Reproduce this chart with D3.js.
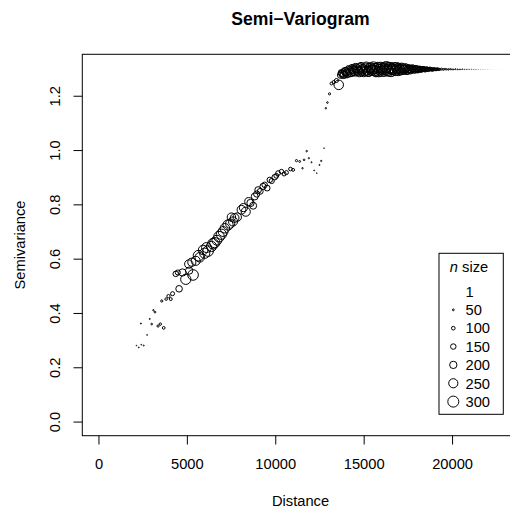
<!DOCTYPE html>
<html>
<head>
<meta charset="utf-8">
<script src="https://cdn.jsdelivr.net/npm/d3@7"></script>
<style>
    body { margin: 0; background: #fff; }
    svg { display: block; font-family: "Liberation Sans", Arial, Helvetica, sans-serif; }
</style>
</head>
<body>
<svg width="510" height="511"></svg>
<script>
// binned semivariogram: lag distance, semivariance, number of pairs
var distance = [
    2150, 2280, 2420, 2560, 2400, 2750, 2900, 3010, 3110, 3200, 3370, 3500, 3690,
    3580, 3830, 3960, 4090, 4190, 4370, 4490, 4560, 4750, 4940, 5110, 5130, 5280, 5350,
    5500, 5660, 5730, 5920, 6010, 6110, 6200, 6390, 6480, 6580, 6700, 6820, 6950, 7050,
    7150, 7330, 7450, 7520, 7610, 7700, 7850, 8090, 8200, 8330, 8500, 8600, 8750, 8840,
    8950, 9030, 9150, 9310, 9400, 9540, 9690, 9800, 9970, 10060, 10160, 10350, 10500,
    10630, 10860, 11010,
    11200, 11380, 11540, 11630, 11780, 11900, 12050, 12200, 12350, 12500, 12600, 12760,
    12860, 12950, 13070, 13180, 13310, 13460, 13590,
    13700, 13800, 13900, 14000, 14100, 14200, 14300, 14400, 14500, 14600,
    14700, 14800, 14900, 15000, 15100, 15200, 15300, 15400, 15500, 15600,
    15700, 15800, 15900, 16000, 16100, 16200, 16300, 16400, 16500, 16600,
    16700, 16800, 16900, 17000, 17100, 17200, 17300, 17400, 17500, 17600,
    17700, 17800, 17900, 18000, 18100, 18200, 18300, 18400, 18500, 18600,
    18700, 18800, 18900, 19000, 19100, 19200, 19300,
    13750, 13850, 13950, 14050, 14150, 14250, 14350, 14450, 14550, 14650,
    14750, 14850, 14950, 15050, 15150, 15250, 15350, 15450, 15550, 15650,
    15750, 15850, 15950, 16050, 16150, 16250, 16350, 16450, 16550, 16650,
    16750, 16850, 16950, 17050, 17150, 17250, 17350, 17450, 17550, 17650,
    17750, 17850, 17950, 18050, 18150, 18250, 18350, 18450, 18550, 18650,
    18750, 18850, 18950, 19050, 19150, 19250,
    19400, 19500, 19600, 19700, 19800, 19900, 20000, 20100, 20200, 20300,
    20400, 20500, 20600, 20700, 20800, 20900, 21000, 21100, 21200, 21300,
    21400, 21500, 21600, 21700, 21800, 21900, 22000, 22100, 22200, 22300,
    22400, 22500, 22600, 22700, 22800
];
var semivariance = [
    0.280, 0.273, 0.283, 0.280, 0.361, 0.319, 0.378, 0.359, 0.410, 0.403, 0.352, 0.359, 0.345,
    0.444, 0.451, 0.462, 0.451, 0.471, 0.544, 0.549, 0.489, 0.549, 0.524, 0.580, 0.556, 0.587, 0.540,
    0.592, 0.611, 0.605, 0.632, 0.620, 0.641, 0.628, 0.645, 0.655, 0.659, 0.668, 0.681, 0.690, 0.700,
    0.712, 0.724, 0.729, 0.753, 0.737, 0.750, 0.753, 0.780, 0.788, 0.773, 0.810, 0.805, 0.795, 0.829,
    0.838, 0.853, 0.848, 0.866, 0.872, 0.860, 0.890, 0.886, 0.900, 0.905, 0.915, 0.921, 0.912,
    0.917, 0.930, 0.927,
    0.961, 0.958, 0.933, 0.964, 0.996, 0.970, 0.955, 0.925, 0.915, 0.945, 0.960, 1.007,
    1.154, 1.175, 1.207, 1.245, 1.250, 1.256, 1.240,
    1.276, 1.282, 1.279, 1.288, 1.284, 1.292, 1.287, 1.296, 1.289, 1.299,
    1.291, 1.301, 1.293, 1.288, 1.302, 1.294, 1.290, 1.303, 1.295, 1.300,
    1.289, 1.304, 1.296, 1.291, 1.302, 1.298, 1.305, 1.292, 1.301, 1.297,
    1.303, 1.293, 1.299, 1.302, 1.294, 1.300, 1.296, 1.301, 1.295, 1.299,
    1.297, 1.300, 1.295, 1.299, 1.296, 1.298, 1.297, 1.299, 1.296, 1.298,
    1.297, 1.298, 1.296, 1.298, 1.297, 1.298, 1.297,
    1.284, 1.277, 1.290, 1.281, 1.295, 1.286, 1.299, 1.291, 1.302, 1.294,
    1.287, 1.305, 1.298, 1.292, 1.306, 1.289, 1.301, 1.293, 1.306, 1.292,
    1.300, 1.289, 1.304, 1.298, 1.291, 1.305, 1.295, 1.303, 1.290, 1.299,
    1.295, 1.304, 1.292, 1.297, 1.303, 1.295, 1.302, 1.293, 1.300, 1.294,
    1.301, 1.296, 1.300, 1.295, 1.299, 1.296, 1.299, 1.296, 1.299, 1.297,
    1.299, 1.297, 1.298, 1.297, 1.298, 1.297,
    1.298, 1.297, 1.298, 1.297, 1.297, 1.298, 1.297, 1.297, 1.298, 1.297,
    1.297, 1.297, 1.298, 1.297, 1.297, 1.297, 1.297, 1.298, 1.297, 1.297,
    1.297, 1.297, 1.297, 1.297, 1.297, 1.297, 1.297, 1.297, 1.297, 1.297,
    1.297, 1.297, 1.297, 1.297, 1.297
];
var nPairs = [
    20, 25, 22, 28, 30, 22, 30, 45, 40, 45, 60, 65, 75,
    60, 70, 90, 80, 110, 150, 140, 180, 200, 280, 230, 200, 220, 290,
    250, 290, 260, 260, 280, 270, 290, 280, 290, 280, 270, 290, 280, 270,
    260, 280, 250, 230, 250, 240, 230, 240, 220, 250, 220, 200, 190, 190,
    170, 180, 160, 170, 150, 160, 150, 140, 150, 130, 130, 120, 110,
    110, 100, 80,
    60, 50, 40, 45, 40, 35, 30, 25, 20, 30, 35, 20,
    40, 45, 60, 80, 90, 110, 260,
    180, 200, 210, 220, 230, 235, 240, 245, 250, 255,
    250, 260, 262, 265, 270, 268, 272, 275, 278, 280,
    285, 283, 288, 290, 292, 295, 298, 300, 296, 292,
    288, 280, 272, 265, 258, 250, 240, 230, 220, 210,
    200, 190, 180, 170, 160, 150, 140, 130, 120, 112,
    104, 96, 88, 80, 72, 65, 58,
    190, 205, 215, 225, 232, 238, 242, 248, 252, 252,
    255, 261, 263, 268, 269, 270, 274, 276, 279, 282,
    284, 286, 289, 291, 294, 296, 299, 298, 294, 290,
    284, 276, 268, 262, 254, 245, 235, 225, 215, 205,
    195, 185, 175, 165, 155, 145, 135, 125, 116, 108,
    100, 92, 84, 76, 68, 61,
    55, 50, 46, 42, 38, 35, 32, 29, 26, 24,
    22, 20, 18, 16, 14, 13, 12, 11, 10, 9,
    8, 7, 6, 5, 5, 4, 4, 3, 3, 2,
    2, 2, 1, 1, 1
];
var xTicks = [0, 5000, 10000, 15000, 20000];
var yTicks = [0.0, 0.2, 0.4, 0.6, 0.8, 1.0, 1.2];
var legendSizes = [1, 50, 100, 150, 200, 250, 300];

var svg = d3.select("svg");
var fontSize = 14.7;

// plot region (right edge runs past the window, as in the original)
var plotLeft = 82.3, plotRight = 518.7, plotTop = 54.3, plotBottom = 435.7;

var xlim = [0, 22855], ylim = [0, 1.3006];
var xpad = (xlim[1] - xlim[0]) * 0.04, ypad = (ylim[1] - ylim[0]) * 0.04;

var x = d3.scaleLinear().domain([xlim[0] - xpad, xlim[1] + xpad]).range([plotLeft, plotRight]);
var y = d3.scaleLinear().domain([ylim[0] - ypad, ylim[1] + ypad]).range([plotBottom, plotTop]);
var size = d3.scaleLinear().domain([0, 300]).range([0, 5.5]);

// tiny symbols come out faint, like the antialiased pch=1 of the original
function ink(n) {
    return Math.min(1, 0.25 + 2 * size(n));
}

var points = distance.map(function (d, i) {
    return { d: d, v: semivariance[i], n: nPairs[i] };
});

svg.append("g")
    .attr("class", "points")
    .selectAll("circle")
    .data(points)
    .enter().append("circle")
    .attr("cx", function (d) { return x(d.d); })
    .attr("cy", function (d) { return y(d.v); })
    .attr("r", function (d) { return size(d.n); })
    .attr("fill", "none")
    .attr("stroke", "#000")
    .attr("stroke-opacity", function (d) { return ink(d.n); })
    .attr("stroke-width", 1);

svg.append("rect")
    .attr("x", plotLeft).attr("y", plotTop)
    .attr("width", plotRight - plotLeft).attr("height", plotBottom - plotTop)
    .attr("fill", "none").attr("stroke", "#000").attr("stroke-width", 1);

var xAxis = svg.append("g")
    .attr("transform", "translate(0," + plotBottom + ")")
    .call(d3.axisBottom(x).tickValues(xTicks).tickSize(8.8).tickFormat(d3.format("d")));
xAxis.select(".domain").remove();
xAxis.selectAll("line").attr("stroke", "#000");
xAxis.selectAll("text")
    .attr("y", 33.3).attr("dy", 0)
    .attr("font-size", fontSize).attr("fill", "#000");
xAxis.attr("font-family", null);

var yAxis = svg.append("g")
    .attr("transform", "translate(" + plotLeft + ",0)")
    .call(d3.axisLeft(y).tickValues(yTicks).tickSize(8.8).tickFormat(d3.format(".1f")));
yAxis.select(".domain").remove();
yAxis.selectAll("line").attr("stroke", "#000");
yAxis.selectAll("text")
    .attr("x", null).attr("dy", 0)
    .attr("transform", "translate(-22,0) rotate(-90)")
    .attr("text-anchor", "middle")
    .attr("font-size", fontSize).attr("fill", "#000");
yAxis.attr("font-family", null);

svg.append("text")
    .attr("x", (plotLeft + plotRight) / 2).attr("y", 24.5)
    .attr("text-anchor", "middle")
    .attr("font-size", 17.6).attr("font-weight", "bold")
    .text("Semi\u2212Variogram");

svg.append("text")
    .attr("x", (plotLeft + plotRight) / 2).attr("y", 506)
    .attr("text-anchor", "middle")
    .attr("font-size", fontSize)
    .text("Distance");

svg.append("text")
    .attr("transform", "translate(25," + (plotTop + plotBottom) / 2 + ") rotate(-90)")
    .attr("text-anchor", "middle")
    .attr("font-size", fontSize)
    .text("Semivariance");

// legend
var legend = svg.append("g").attr("class", "legend");
legend.append("rect")
    .attr("x", 439).attr("y", 253.3)
    .attr("width", 64.3).attr("height", 161)
    .attr("fill", "#fff").attr("stroke", "#000").attr("stroke-width", 1);

var legendTitle = legend.append("text")
    .attr("x", 469).attr("y", 272)
    .attr("text-anchor", "middle")
    .attr("font-size", fontSize);
legendTitle.append("tspan").attr("font-style", "italic").text("n");
legendTitle.append("tspan").text(" size");

var rows = legend.selectAll(".row")
    .data(legendSizes)
    .enter().append("g")
    .attr("class", "row")
    .attr("transform", function (d, i) { return "translate(0," + (291.5 + i * 18.35) + ")"; });
rows.append("circle")
    .attr("cx", 453.3).attr("cy", 0)
    .attr("r", function (d) { return size(d); })
    .attr("fill", "none").attr("stroke", "#000")
    .attr("stroke-opacity", function (d) { return ink(d); })
    .attr("stroke-width", 1);
rows.append("text")
    .attr("x", 465.5).attr("dy", "0.36em")
    .attr("font-size", fontSize)
    .text(function (d) { return d; });
</script>
</body>
</html>
